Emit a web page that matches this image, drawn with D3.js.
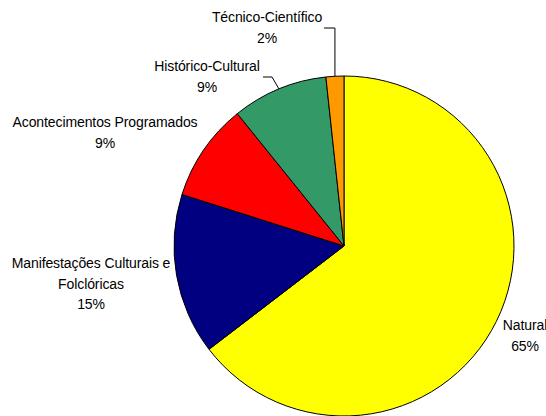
<!DOCTYPE html>
<html><head><meta charset="utf-8">
<script src="https://cdn.jsdelivr.net/npm/d3@7"></script>
<style>body{margin:0;background:#fff}svg{display:block}text{font-family:"Liberation Sans",Arial,sans-serif;font-size:14px;fill:#000}</style>
</head><body>
<script>
const categories = ["Natural","Manifestações Culturais e Folclóricas","Acontecimentos Programados","Histórico-Cultural","Técnico-Científico"];
const values = [64.6, 15.3, 9.3, 9.1, 1.7];
const pctLabels = ["65%","15%","9%","9%","2%"];
const colors = ["#FFFF00","#000080","#FF0000","#339966","#FF9900"];

const W=546,H=416, cx=344, cy=246, R=170;
const svg=d3.select("body").append("svg").attr("width",W).attr("height",H);
const g=svg.append("g").attr("transform",`translate(${cx},${cy})`);
const pie=d3.pie().sort(null).value(d=>d)(values);
const arc=d3.arc().innerRadius(0).outerRadius(R);
g.selectAll("path").data(pie).join("path")
  .attr("d",arc).attr("fill",(d,i)=>colors[i]).attr("stroke","#000").attr("stroke-width",1);

// label layout: [x, first baseline, lines]
const layout=[
  {x:525,y:330,lines:["Natural"]},
  {x:91,y:268,lines:["Manifestações Culturais e","Folclóricas"]},
  {x:105,y:127,lines:["Acontecimentos Programados"]},
  {x:207,y:71,lines:["Histórico-Cultural"]},
  {x:267,y:22,lines:["Técnico-Científico"]}
];
layout.forEach((L,i)=>{
  const t=svg.append("text").attr("text-anchor","middle").attr("letter-spacing","-0.1px");
  const all=L.lines.concat([pctLabels[i]]);
  all.forEach((s,k)=>t.append("tspan").attr("x",L.x).attr("y",L.y+k*20.5).text(s));
});
// leader lines
function edge(d){const a=(d.startAngle+d.endAngle)/2;return [cx+R*Math.sin(a),cy-R*Math.cos(a)];}
const e4=edge(pie[4]), e3=edge(pie[3]);
svg.append("polyline").attr("points",`324,28 ${e4[0]},28 ${e4[0]},${e4[1]}`).attr("fill","none").attr("stroke","#000").attr("stroke-width",1);
svg.append("polyline").attr("points",`263,77 272,77 ${e3[0]},${e3[1]}`).attr("fill","none").attr("stroke","#000").attr("stroke-width",1);
</script>
</body></html>
